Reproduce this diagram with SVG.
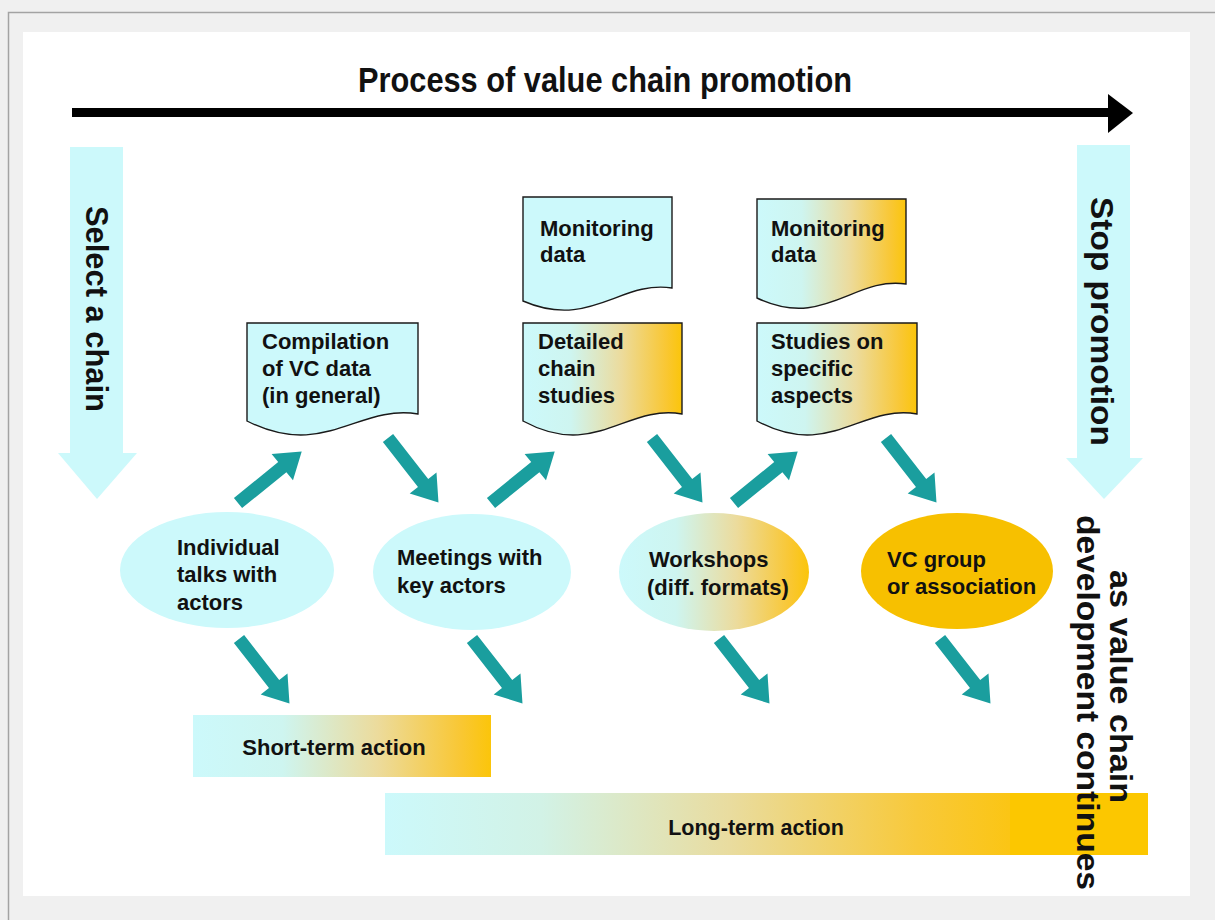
<svg xmlns="http://www.w3.org/2000/svg" width="1215" height="920" viewBox="0 0 1215 920">
<defs>
<linearGradient id="gCO" x1="0" y1="0" x2="1" y2="0">
<stop offset="0" stop-color="#ccf9fb"/>
<stop offset="0.3" stop-color="#cef5f0"/>
<stop offset="0.62" stop-color="#ecdb9c"/>
<stop offset="0.9" stop-color="#f9c733"/>
<stop offset="1" stop-color="#fbc50a"/>
</linearGradient>
<linearGradient id="gLong" x1="0" y1="0" x2="1" y2="0">
<stop offset="0" stop-color="#ccf9fb"/>
<stop offset="0.25" stop-color="#d2f2e6"/>
<stop offset="0.55" stop-color="#e9dc9f"/>
<stop offset="0.85" stop-color="#f8c93a"/>
<stop offset="1" stop-color="#fbc514"/>
</linearGradient>
<path id="ta" d="M0,-6.5 H57 V-17 L82,0 L57,17 V6.5 H0 Z"/>
</defs>
<style>
.t{font-family:"Liberation Sans",Arial,sans-serif;font-weight:bold;font-size:22px;fill:#111}
.rt{font-family:"Liberation Sans",Arial,sans-serif;font-weight:bold;font-size:31px;fill:#111}
.doc{stroke:#1a1a1a;stroke-width:1.4}
.cy{fill:#ccf9fb}
.grad{fill:url(#gCO)}
.tarrow{fill:#1a9e9e}
</style>
<rect width="1215" height="920" fill="#f0f0f0"/>
<path d="M8.5,920 V12.5 H1215" fill="none" stroke="#a3a3a3" stroke-width="1.5"/>
<rect x="23" y="32" width="1167" height="864" fill="#ffffff"/>

<g id="title">
<text class="t" x="605" y="92" text-anchor="middle" style="font-size:35px" textLength="494" lengthAdjust="spacingAndGlyphs">Process of value chain promotion</text>
<rect x="72" y="108" width="1037" height="9" fill="#000"/>
<polygon points="1108,94 1133,113 1108,133" fill="#000"/>
</g>

<g id="select-chain">
<polygon class="cy" points="70,147 123,147 123,453 137,453 97,499 58,453 70,453"/>
<text class="rt" transform="translate(86,206) rotate(90)" textLength="206" lengthAdjust="spacingAndGlyphs">Select a chain</text>
</g>

<g id="stop-promotion">
<polygon class="cy" points="1077,145 1130,145 1130,458 1143,458 1104,499 1066,458 1077,458"/>
<text class="rt" transform="translate(1091,197) rotate(90)" textLength="249" lengthAdjust="spacingAndGlyphs">Stop promotion</text>
</g>

<g id="compilation">
<path class="doc cy" d="M247,323 H418 V414 C358,404 324,460 247,421 Z"/>
<text class="t" x="262" y="349">Compilation</text>
<text class="t" x="262" y="376">of VC data</text>
<text class="t" x="262" y="403">(in general)</text>
</g>

<g id="monitoring-1">
<path class="doc cy" d="M523,197 H672 V288 C620,280 590,330 523,301 Z"/>
<text class="t" x="540" y="236">Monitoring</text>
<text class="t" x="540" y="262">data</text>
</g>

<g id="detailed">
<path class="doc grad" d="M523,323 H682 V414 C626,404 595,460 523,421 Z"/>
<text class="t" x="538" y="349">Detailed</text>
<text class="t" x="538" y="376">chain</text>
<text class="t" x="538" y="403">studies</text>
</g>

<g id="monitoring-2">
<path class="doc grad" d="M757,199 H906 V284 C854,276 824,330 757,298 Z"/>
<text class="t" x="771" y="236">Monitoring</text>
<text class="t" x="771" y="262">data</text>
</g>

<g id="studies">
<path class="doc grad" d="M757,323 H917 V414 C861,404 829,460 757,421 Z"/>
<text class="t" x="771" y="349">Studies on</text>
<text class="t" x="771" y="376">specific</text>
<text class="t" x="771" y="403">aspects</text>
</g>

<g id="individual">
<ellipse class="cy" cx="227" cy="570" rx="107" ry="58"/>
<text class="t" x="177" y="555">Individual</text>
<text class="t" x="177" y="582">talks with</text>
<text class="t" x="177" y="610">actors</text>
</g>

<g id="meetings">
<ellipse class="cy" cx="472" cy="572" rx="99" ry="58"/>
<text class="t" x="397" y="565">Meetings with</text>
<text class="t" x="397" y="593">key actors</text>
</g>

<g id="workshops">
<ellipse class="grad" cx="714" cy="572" rx="95" ry="59"/>
<text class="t" x="649" y="567">Workshops</text>
<text class="t" x="647" y="595">(diff. formats)</text>
</g>

<g id="vc-group">
<ellipse cx="957" cy="571" rx="96" ry="58" fill="#f7c000"/>
<text class="t" x="887" y="567">VC group</text>
<text class="t" x="887" y="594">or association</text>
</g>

<g id="short-term">
<rect class="grad" x="193" y="715" width="298" height="62"/>
<text class="t" x="334" y="755" text-anchor="middle">Short-term action</text>
</g>

<g id="long-term">
<rect x="385" y="793" width="626" height="62" fill="url(#gLong)"/>
<rect x="1010" y="793" width="138" height="62" fill="#fcc700"/>
<text class="t" x="756" y="835" text-anchor="middle" style="font-size:21.5px">Long-term action</text>
</g>

<g id="continues">
<text class="rt" transform="translate(1110,570) rotate(90)" style="font-size:32px" textLength="233" lengthAdjust="spacingAndGlyphs">as value chain</text>
<text class="rt" transform="translate(1077,515) rotate(90)" style="font-size:32px" textLength="375" lengthAdjust="spacingAndGlyphs">development continues</text>
</g>

<g id="connectors" class="tarrow">
<use href="#ta" transform="translate(238,503) rotate(-39)"/>
<use href="#ta" transform="translate(491,503) rotate(-39)"/>
<use href="#ta" transform="translate(734,503) rotate(-39)"/>
<use href="#ta" transform="translate(388,438) rotate(52)"/>
<use href="#ta" transform="translate(652,438) rotate(52)"/>
<use href="#ta" transform="translate(886,438) rotate(52)"/>
<use href="#ta" transform="translate(239,639) rotate(52)"/>
<use href="#ta" transform="translate(472,639) rotate(52)"/>
<use href="#ta" transform="translate(719,639) rotate(52)"/>
<use href="#ta" transform="translate(940,639) rotate(52)"/>
</g>
</svg>
